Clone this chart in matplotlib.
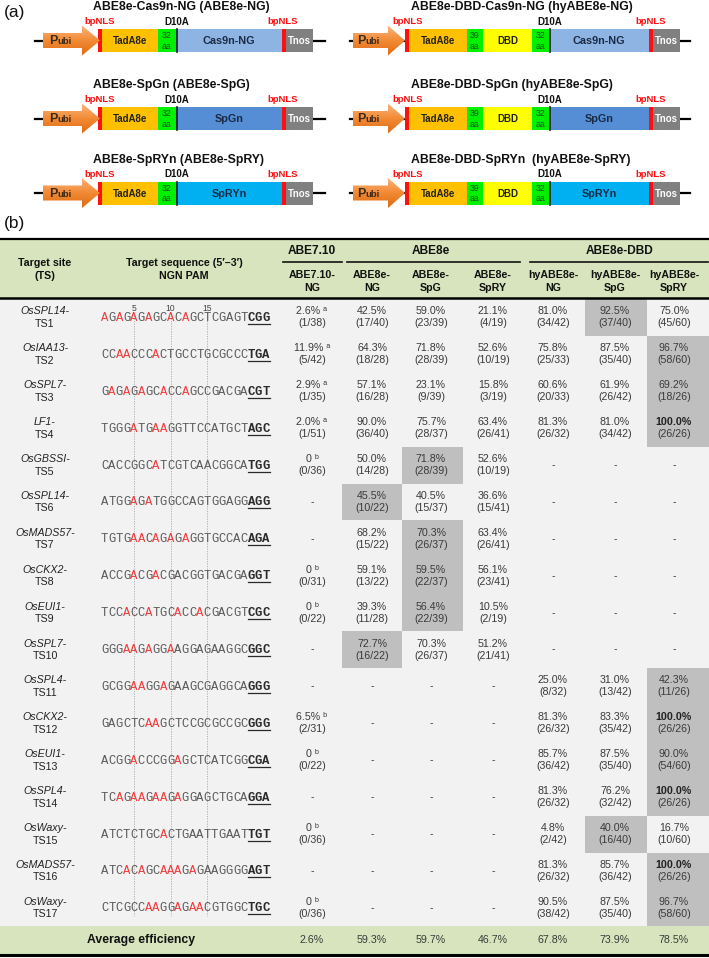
import numpy as np
import matplotlib
matplotlib.use('Agg')
import matplotlib.pyplot as plt
from matplotlib.patches import Rectangle, Polygon
from matplotlib.colors import LinearSegmentedColormap

plt.rcParams['font.family'] = ['Liberation Sans', 'DejaVu Sans']

# ---------------- data: (a) constructs ----------------
titles_left = ['ABE8e-Cas9n-NG (ABE8e-NG)', 'ABE8e-SpGn (ABE8e-SpG)', 'ABE8e-SpRYn (ABE8e-SpRY)']
titles_right = ['ABE8e-DBD-Cas9n-NG (hyABE8e-NG)', 'ABE8e-DBD-SpGn (hyABE8e-SpG)',
                'ABE8e-DBD-SpRYn  (hyABE8e-SpRY)']
cas_names = ['Cas9n-NG', 'SpGn', 'SpRYn']
cas_colors = ['#8EB4E3', '#558ED5', '#00B0F0']

# ---------------- data: (b) table ----------------
ts_genes = ['OsSPL14', 'OsIAA13', 'OsSPL7', 'LF1', 'OsGBSSI', 'OsSPL14', 'OsMADS57', 'OsCKX2',
            'OsEUI1', 'OsSPL7', 'OsSPL4', 'OsCKX2', 'OsEUI1', 'OsSPL4', 'OsWaxy', 'OsMADS57', 'OsWaxy']
protospacers = ['AGAGAGAGCACAGCTCGAGT', 'CCAACCCACTGCCTGCGCCC', 'GAGAGAGCACCAGCCGACGA',
                'TGGGATGAAGGTTCCATGCT', 'CACCGGCATCGTCAACGGCA', 'ATGGAGATGGCCAGTGGAGG',
                'TGTGAACAGAGAGGTGCCAC', 'ACCGACGACGACGGTGACGA', 'TCCACCATGCACCACGACGT',
                'GGGAAGAGGAAGGAGAAGGC', 'GCGGAAGGAGAAGCGAGGCA', 'GAGCTCAAGCTCCGCGCCGC',
                'ACGGACCCGGAGCTCATCGG', 'TCAGAAGAAGAGGAGCTGCA', 'ATCTCTGCACTGAATTGAAT',
                'ATCACAGCAAAGAGAAGGGG', 'CTCGCCAAGGAGAACGTGGC']
pams = ['CGG', 'TGA', 'CGT', 'AGC', 'TGG', 'AGG', 'AGA', 'GGT', 'CGC', 'GGC', 'GGG', 'GGG',
        'CGA', 'GGA', 'TGT', 'AGT', 'TGC']
# edited A positions (1-based) shown in red
red_pos = [[1, 3, 5, 7, 10, 12], [3, 4, 8], [2, 4, 6, 9, 12], [5, 8, 9], [8], [5, 7],
           [5, 6, 8, 10, 12], [5, 8], [4, 7, 11, 14], [4, 5, 7, 10], [5, 6, 9], [7, 8],
           [5, 11], [3, 5, 6, 8, 9, 11], [9], [4, 6, 9, 10, 11, 13], [7, 8, 11, 13, 14]]

N6 = [None] * 6
N7 = [None] * 7
abe710_pct = [2.6, 11.9, 2.9, 2.0, 0, None, None, 0, 0, None, None, 6.5, 0, None, 0, None, 0]
abe710_hit = [1, 5, 1, 1, 0, None, None, 0, 0, None, None, 2, 0, None, 0, None, 0]
abe710_tot = [38, 42, 35, 51, 36, None, None, 31, 22, None, None, 31, 22, None, 36, None, 36]
abe710_note = ['a', 'a', 'a', 'a', 'b', '', '', 'b', 'b', '', '', 'b', 'b', '', 'b', '', 'b']

ng_pct = [42.5, 64.3, 57.1, 90.0, 50.0, 45.5, 68.2, 59.1, 39.3, 72.7] + N7
ng_hit = [17, 18, 16, 36, 14, 10, 15, 13, 11, 16] + N7
ng_tot = [40, 28, 28, 40, 28, 22, 22, 22, 28, 22] + N7

spg_pct = [59.0, 71.8, 23.1, 75.7, 71.8, 40.5, 70.3, 59.5, 56.4, 70.3] + N7
spg_hit = [23, 28, 9, 28, 28, 15, 26, 22, 22, 26] + N7
spg_tot = [39, 39, 39, 37, 39, 37, 37, 37, 39, 37] + N7

spry_pct = [21.1, 52.6, 15.8, 63.4, 52.6, 36.6, 63.4, 56.1, 10.5, 51.2] + N7
spry_hit = [4, 10, 3, 26, 10, 15, 26, 23, 2, 21] + N7
spry_tot = [19, 19, 19, 41, 19, 41, 41, 41, 19, 41] + N7

hy_ng_pct = [81.0, 75.8, 60.6, 81.3] + N6 + [25.0, 81.3, 85.7, 81.3, 4.8, 81.3, 90.5]
hy_ng_hit = [34, 25, 20, 26] + N6 + [8, 26, 36, 26, 2, 26, 38]
hy_ng_tot = [42, 33, 33, 32] + N6 + [32, 32, 42, 32, 42, 32, 42]

hy_spg_pct = [92.5, 87.5, 61.9, 81.0] + N6 + [31.0, 83.3, 87.5, 76.2, 40.0, 85.7, 87.5]
hy_spg_hit = [37, 35, 26, 34] + N6 + [13, 35, 35, 32, 16, 36, 35]
hy_spg_tot = [40, 40, 42, 42] + N6 + [42, 42, 40, 42, 40, 42, 40]

hy_spry_pct = [75.0, 96.7, 69.2, 100.0] + N6 + [42.3, 100.0, 90.0, 100.0, 16.7, 100.0, 96.7]
hy_spry_hit = [45, 58, 18, 26] + N6 + [11, 26, 54, 26, 10, 26, 58]
hy_spry_tot = [60, 60, 26, 26] + N6 + [26, 26, 60, 26, 60, 26, 60]

# best editor per site (grey cells), 0-based row index
shaded = {1: [5, 9], 2: [4, 6, 7, 8], 5: [0, 14], 6: [1, 2, 3, 10, 11, 12, 13, 15, 16]}
averages = ['2.6%', '59.3%', '59.7%', '46.7%', '67.8%', '73.9%', '78.5%']
col_heads = [('ABE7.10-', 'NG'), ('ABE8e-', 'NG'), ('ABE8e-', 'SpG'), ('ABE8e-', 'SpRY'),
             ('hyABE8e-', 'NG'), ('hyABE8e-', 'SpG'), ('hyABE8e-', 'SpRY')]
col_pct = [abe710_pct, ng_pct, spg_pct, spry_pct, hy_ng_pct, hy_spg_pct, hy_spry_pct]
col_hit = [abe710_hit, ng_hit, spg_hit, spry_hit, hy_ng_hit, hy_spg_hit, hy_spry_hit]
col_tot = [abe710_tot, ng_tot, spg_tot, spry_tot, hy_ng_tot, hy_spg_tot, hy_spry_tot]

# ---------------- layout ----------------
col_x = [312, 372, 431, 493, 553, 615, 674]
col_edges = [282, 342, 402, 463, 525, 585, 647, 709]
body_top = 299
row_h = 36.9
seq_x0 = 101
cw = 7.33

RED = '#F03C3C'
TXT = '#3A3A3A'
GREEN_BG = '#D7E4BD'

fig = plt.figure(figsize=(7.09, 9.58), dpi=100)
ax = fig.add_axes([0, 0, 1, 1])
ax.axis('off')

orange = LinearSegmentedColormap.from_list('orng', ['#FBB27A', '#F28A33', '#DD6A12'])
grad = np.linspace(0, 1, 64).reshape(-1, 1)


def construct(yc, x_line, arrow, segs, cas_idx, title, x_title, nls_x, d10a_x):
    ax.plot(x_line, [yc, yc], color='black', lw=1.6, zorder=1)
    x0, xh, xt = arrow
    pts = [(x0, yc - 7.5), (xh, yc - 7.5), (xh, yc - 15), (xt, yc), (xh, yc + 15),
           (xh, yc + 7.5), (x0, yc + 7.5)]
    poly = Polygon(pts, closed=True, facecolor='none', edgecolor='none', zorder=4)
    ax.add_patch(poly)
    im = ax.imshow(grad, extent=(x0, xt, yc + 15, yc - 15), cmap=orange, aspect='auto',
                   origin='upper', zorder=4)
    im.set_clip_path(poly)
    px = x0 + (xh - x0) * 0.5 - 5
    ax.text(px, yc + 0.5, 'P', fontsize=9, fontweight='bold', color='#3A2A1A',
            ha='right', va='center', zorder=5)
    ax.text(px, yc + 1, 'ubi', fontsize=6.8, fontweight='bold', color='#3A2A1A',
            ha='left', va='center', zorder=5)
    for (a, b, kind) in segs:
        if kind == 'nls':
            fc = '#FF1010'
        elif kind == 'tada':
            fc = '#FFC000'
        elif kind in ('32', '39'):
            fc = '#00F000'
        elif kind == 'dbd':
            fc = '#FFFF00'
        elif kind == 'cas':
            fc = cas_colors[cas_idx]
        else:
            fc = '#808080'
        ax.add_patch(Rectangle((a, yc - 11.5), b - a, 23, facecolor=fc, edgecolor='none', zorder=3))
        xc = (a + b) / 2
        if kind == 'tada':
            ax.text(xc, yc + 0.5, 'TadA8e', fontsize=7, fontweight='bold', color='#222222',
                    ha='center', va='center', zorder=5)
        elif kind in ('32', '39'):
            ax.text(xc, yc - 5, kind, fontsize=6.3, color='#1F4F1F', ha='center', va='center', zorder=5)
            ax.text(xc, yc + 5.5, 'aa', fontsize=6.3, color='#1F4F1F', ha='center', va='center', zorder=5)
        elif kind == 'dbd':
            ax.text(xc, yc + 0.5, 'DBD', fontsize=7, fontweight='bold', color='#222222',
                    ha='center', va='center', zorder=5)
        elif kind == 'cas':
            ax.text(xc, yc + 0.5, cas_names[cas_idx], fontsize=7.8, fontweight='bold',
                    color='#1A2A44', ha='center', va='center', zorder=5)
        elif kind == 'tnos':
            ax.text(xc, yc + 0.5, 'Tnos', fontsize=6.9, fontweight='bold', color='white',
                    ha='center', va='center', zorder=5)
    ax.plot([d10a_x, d10a_x], [yc - 11.5, yc + 11.5], color='#1A1A2A', lw=1.2, zorder=4)
    ax.text(x_title, yc - 33.5, title, fontsize=8.8, fontweight='bold', color='#111111',
            ha='left', va='center')
    for nx in nls_x:
        ax.text(nx, yc - 19, 'bpNLS', fontsize=6.8, fontweight='bold', color='#FF1010',
                ha='center', va='center')
    ax.text(d10a_x, yc - 19, 'D10A', fontsize=7, fontweight='bold', color='#111111',
            ha='center', va='center')


row_yc = [40.5, 118.5, 193]
segs_left = [(98, 102, 'nls'), (102, 158, 'tada'), (158, 176, '32'), (176, 282, 'cas'),
             (282, 286, 'nls'), (286, 313, 'tnos')]
segs_right = [(405, 409, 'nls'), (409, 467, 'tada'), (467, 483, '39'), (483, 532, 'dbd'),
              (532, 549, '32'), (549, 649, 'cas'), (649, 653, 'nls'), (653, 680, 'tnos')]
for i, yc in enumerate(row_yc):
    construct(yc, [35, 325], (43, 82, 100), segs_left, i, titles_left[i], 93, [100, 283], 177)
    construct(yc, [350, 690], (353, 388, 405), segs_right, i, titles_right[i], 411, [408, 651], 550)

ax.text(4, 12, '(a)', fontsize=12.5, color='#111111', ha='left', va='center')
ax.text(4, 223, '(b)', fontsize=12.5, color='#111111', ha='left', va='center')

# ---------------- (b) table ----------------
n_rows = len(ts_genes)
body_bot = body_top + n_rows * row_h
ax.add_patch(Rectangle((0, 238), 709, body_top - 238, facecolor=GREEN_BG, edgecolor='none', zorder=0))
ax.add_patch(Rectangle((0, body_top), 709, body_bot - body_top, facecolor='#F2F2F2',
                       edgecolor='none', zorder=0))
ax.add_patch(Rectangle((0, body_bot), 709, 954 - body_bot, facecolor=GREEN_BG, edgecolor='none', zorder=0))
for c, rows in shaded.items():
    for r in rows:
        ax.add_patch(Rectangle((col_edges[c], body_top + r * row_h), col_edges[c + 1] - col_edges[c],
                               row_h, facecolor='#BFBFBF', edgecolor='none', zorder=0.5))
ax.plot([0, 709], [238.5, 238.5], color='black', lw=1.6)
ax.plot([0, 709], [298, 298], color='black', lw=1.8)
ax.plot([0, 709], [955, 955], color='black', lw=2.2)

# header
hb = dict(fontweight='bold', color='#111111', ha='center', va='center', fontsize=7.7)
ax.text(45, 263, 'Target site', **hb)
ax.text(45, 276, '(TS)', **hb)
ax.text(184, 263, 'Target sequence (5\u2032\u20133\u2032)', **hb)
ax.text(184, 276, 'NGN PAM', **hb)
groups = [('ABE7.10', 312, 283, 342), ('ABE8e', 431, 347, 520), ('ABE8e-DBD', 620, 530, 708)]
for name, gx, l0, l1 in groups:
    ax.text(gx, 251, name, fontsize=8.6, fontweight='bold', color='#111111', ha='center', va='center')
    ax.plot([l0, l1], [262, 262], color='#111111', lw=1.2)
for c, (h1, h2) in enumerate(col_heads):
    ax.text(col_x[c], 275, h1, **hb)
    ax.text(col_x[c], 288, h2, **hb)

# dotted guide lines at positions 5, 10, 15
for p in [5, 10, 15]:
    gx = seq_x0 + (p - 0.5) * cw
    ax.plot([gx, gx], [313, body_bot - 10], color='#A8A8A8', lw=0.6, ls=(0, (1.5, 1.5)), zorder=1)
    ax.text(gx, 308.5, str(p), fontsize=6.2, color='#444444', ha='center', va='center')

for r in range(n_rows):
    yc = body_top + (r + 0.5) * row_h
    ax.text(45, yc - 6, ts_genes[r] + '-', fontsize=7.7, style='italic', color='#222222',
            ha='center', va='center')
    ax.text(45, yc + 6.5, 'TS%d' % (r + 1), fontsize=7.7, color='#222222', ha='center', va='center')
    seq = protospacers[r]
    for k, ch in enumerate(seq):
        colr = RED if (k + 1) in red_pos[r] else '#5A5A5A'
        ax.text(seq_x0 + (k + 0.5) * cw, yc + 0.5, ch, fontsize=8.8, family='Liberation Mono',
                color=colr, ha='center', va='center', zorder=2)
    for k, ch in enumerate(pams[r]):
        ax.text(seq_x0 + (len(seq) + k + 0.5) * cw, yc + 0.5, ch, fontsize=8.8, family='Liberation Mono',
                fontweight='bold', color='#2A2A2A', ha='center', va='center', zorder=2)
    ax.plot([seq_x0 + len(seq) * cw, seq_x0 + (len(seq) + 3) * cw], [yc + 6.5, yc + 6.5],
            color='#2A2A2A', lw=0.9, zorder=2)
    for c in range(7):
        p = col_pct[c][r]
        if p is None:
            ax.text(col_x[c], yc, '-', fontsize=7.7, color=TXT, ha='center', va='center')
            continue
        s = '0' if p == 0 else '%.1f%%' % p
        if c == 0:
            s = s + ' ' + {'a': '\u1d43', 'b': '\u1d47'}[abe710_note[r]]
        ax.text(col_x[c], yc - 6, s, fontsize=7.7, color='#222222' if p == 100 else TXT,
                fontweight='bold' if p == 100 else 'normal', ha='center', va='center')
        ax.text(col_x[c], yc + 6, '(%d/%d)' % (col_hit[c][r], col_tot[c][r]), fontsize=7.7,
                color=TXT, ha='center', va='center')

ya = (body_bot + 954) / 2
ax.text(141, ya, 'Average efficiency', fontsize=8.8, fontweight='bold', color='#111111',
        ha='center', va='center')
for c in range(7):
    ax.text(col_x[c], ya, averages[c], fontsize=7.7, color=TXT, ha='center', va='center')

ax.set_xlim(0, 709)
ax.set_ylim(958, 0)
fig.savefig('out.png', dpi=100)
